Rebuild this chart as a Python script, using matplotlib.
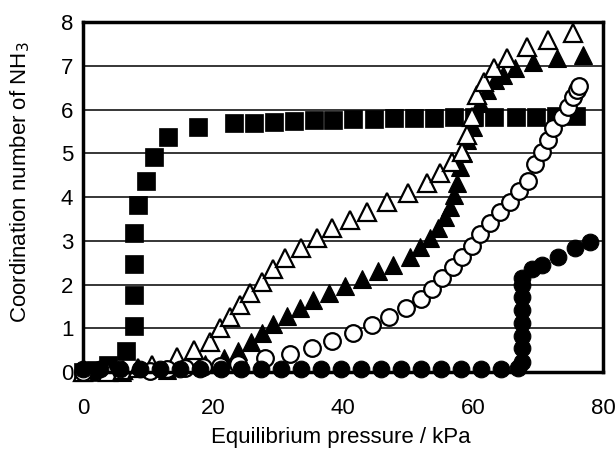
import matplotlib
matplotlib.use("Agg")
import matplotlib.pyplot as plt

plt.rcParams['font.family'] = ['Liberation Sans', 'DejaVu Sans']

# Filled squares
sq_x = [0, 1.0, 2.0, 3.8, 6.6, 7.8, 7.8, 7.8, 7.8, 8.5, 9.7, 10.9, 13.1, 17.7,
        23.2, 26.3, 29.4, 32.5, 35.5, 38.5, 41.5, 44.8, 47.8, 50.9, 54.0, 57.1,
        60.2, 63.2, 66.6, 69.7, 72.8, 75.8]
sq_y = [0, 0, 0.05, 0.15, 0.48, 1.05, 1.76, 2.48, 3.17, 3.82, 4.37, 4.91, 5.37, 5.6,
        5.69, 5.70, 5.72, 5.73, 5.75, 5.77, 5.78, 5.79, 5.80, 5.80, 5.81, 5.82,
        5.83, 5.83, 5.84, 5.84, 5.85, 5.85]

# Filled triangles
ft_x = [0, 6.0, 12.9, 18.8, 21.7, 23.8, 25.8, 27.5, 29.2, 31.4, 33.4, 35.4, 37.8,
        40.3, 42.9, 45.4, 47.7, 50.3, 51.8, 53.4, 54.6, 55.7, 56.5, 57.1, 57.5,
        58.0, 58.5, 59.1, 60.0, 61.1, 62.2, 63.4, 64.6, 66.5, 69.2, 72.9, 76.9]
ft_y = [0, 0, 0.05, 0.18, 0.32, 0.48, 0.69, 0.89, 1.10, 1.28, 1.46, 1.65, 1.81,
        1.97, 2.13, 2.31, 2.45, 2.63, 2.86, 3.06, 3.29, 3.54, 3.77, 4.05, 4.32,
        4.69, 5.01, 5.30, 5.60, 6.14, 6.44, 6.67, 6.79, 6.95, 7.09, 7.18, 7.25]

# Open triangles
ot_x = [0, 3.8, 6.2, 8.5, 10.6, 14.5, 17.1, 19.5, 21.1, 22.6, 24.2, 25.7, 27.5,
        29.2, 31.1, 33.5, 36.0, 38.3, 41.1, 43.7, 46.8, 50.0, 52.9, 54.9, 56.8,
        58.3, 59.1, 59.8, 60.6, 61.7, 63.2, 65.2, 68.3, 71.5, 75.4]
ot_y = [0, 0, 0.05, 0.09, 0.16, 0.34, 0.50, 0.69, 1.01, 1.26, 1.53, 1.81, 2.06,
        2.36, 2.61, 2.83, 3.06, 3.29, 3.47, 3.66, 3.89, 4.09, 4.32, 4.55, 4.80,
        5.03, 5.41, 5.83, 6.34, 6.63, 6.95, 7.17, 7.43, 7.59, 7.75]

# Open circles
oc_x = [0, 10.3, 12.9, 15.7, 18.5, 21.1, 23.8, 28.0, 31.8, 35.2, 38.3, 41.5, 44.5,
        47.1, 49.7, 52.0, 53.7, 55.2, 56.9, 58.3, 59.8, 61.1, 62.6, 64.2, 65.7,
        67.1, 68.5, 69.5, 70.6, 71.5, 72.3, 73.7, 74.6, 75.4, 76.0, 76.3]
oc_y = [0, 0.02, 0.07, 0.09, 0.11, 0.14, 0.18, 0.32, 0.41, 0.55, 0.71, 0.89, 1.07,
        1.26, 1.46, 1.67, 1.90, 2.15, 2.40, 2.63, 2.88, 3.15, 3.41, 3.66, 3.89,
        4.14, 4.37, 4.75, 5.03, 5.30, 5.58, 5.83, 6.06, 6.29, 6.45, 6.54]

# Filled circles
fc_x = [0, 2.6, 5.7, 8.8, 11.8, 14.9, 18.0, 21.2, 24.3, 27.4, 30.5, 33.6, 36.6,
        39.7, 42.8, 45.8, 48.9, 52.0, 55.1, 58.2, 61.2, 64.3, 66.9,
        67.6, 67.6, 67.6, 67.6, 67.6, 67.6, 67.6, 67.6,
        69.1, 70.6, 73.1, 75.7, 78.0]
fc_y = [0.08, 0.08, 0.08, 0.08, 0.08, 0.08, 0.08, 0.08, 0.08, 0.08, 0.08, 0.08, 0.08,
        0.08, 0.08, 0.08, 0.08, 0.08, 0.08, 0.08, 0.08, 0.08, 0.10,
        0.22, 0.55, 0.82, 1.12, 1.42, 1.72, 2.00, 2.15,
        2.35, 2.45, 2.63, 2.83, 2.97]

x_ticks = [0, 20, 40, 60, 80]
y_ticks = [0, 1, 2, 3, 4, 5, 6, 7, 8]

fig = plt.figure(figsize=(6.16, 4.5), dpi=100)
ax = fig.add_axes([0.1347, 0.1733, 0.8443, 0.7777])

ax.set_xlim(0, 80)
ax.set_ylim(0, 8)
ax.set_xticks(x_ticks)
ax.set_yticks(y_ticks)
ax.yaxis.grid(True, color='black', linewidth=1.1)
ax.set_axisbelow(True)

kw = dict(linestyle='none', clip_on=False)
ax.plot(sq_x, sq_y, marker='s', ms=13, mfc='black', mec='black', mew=0.5, zorder=3, **kw)
ax.plot(ft_x, ft_y, marker='^', ms=13, mfc='black', mec='black', mew=0.8, zorder=4, **kw)
ax.plot(ot_x, ot_y, marker='^', ms=13, mfc='white', mec='black', mew=1.6, zorder=5, **kw)
ax.plot(oc_x, oc_y, marker='o', ms=12, mfc='white', mec='black', mew=1.6, zorder=6, **kw)
ax.plot(fc_x, fc_y, marker='o', ms=12, mfc='black', mec='black', mew=0.8, zorder=7, **kw)

for s in ax.spines.values():
    s.set_linewidth(2.5)
    s.set_zorder(8)

ax.tick_params(axis='x', length=0, pad=19, labelsize=16)
ax.tick_params(axis='y', length=0, pad=7, labelsize=16)

ax.set_xlabel('Equilibrium pressure / kPa', fontsize=16)
ax.xaxis.label.set_va('center')
ax.xaxis.set_label_coords(0.495, -0.186)
ax.set_ylabel('Coordination number of NH$_3$', fontsize=16)
ax.yaxis.label.set_va('center')
ax.yaxis.set_label_coords(-0.121, 0.543)

fig.savefig('out.png', dpi=100)
